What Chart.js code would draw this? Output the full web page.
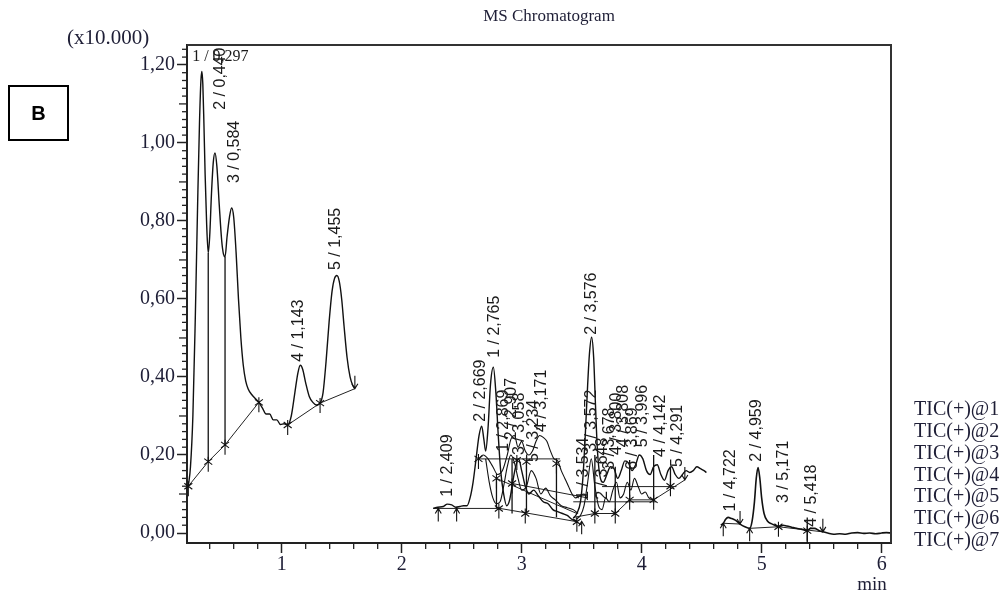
<!DOCTYPE html>
<html>
<head>
<meta charset="utf-8">
<script src="https://cdn.jsdelivr.net/npm/chart.js@4.4.1/dist/chart.umd.min.js"></script>
<style>
  html, body { margin: 0; padding: 0; background: #fff; }
  canvas { display: block; }
</style>
</head>
<body>
<canvas id="c" width="1007" height="596"></canvas>
<script>
// ---------- DATA ----------
const chartTitle = "MS Chromatogram";
const yScaleNote = "(x10.000)";
const xUnit = "min";
const panelLetter = "B";
const legendNames = ["TIC(+)@1","TIC(+)@2","TIC(+)@3","TIC(+)@4","TIC(+)@5","TIC(+)@6","TIC(+)@7"];

// segment 1 (0.2 - 1.6 min)
const seg1X = [0.222,0.24,0.26,0.28,0.30,0.315,0.327,0.335,0.343,0.352,0.362,0.375,0.388,0.40,0.415,0.43,0.444,0.46,0.48,0.50,0.515,0.528,0.545,0.565,0.583,0.60,0.62,0.64,0.66,0.68,0.70,0.72,0.75,0.78,0.81,0.84,0.87,0.90,0.93,0.96,0.99,1.02,1.05,1.08,1.11,1.135,1.155,1.175,1.20,1.23,1.26,1.29,1.32,1.345,1.37,1.395,1.42,1.44,1.46,1.48,1.50,1.52,1.545,1.57,1.59,1.61];
const seg1Y = [0.12,0.17,0.3,0.55,0.85,1.05,1.16,1.183,1.15,1.05,0.92,0.79,0.718,0.76,0.87,0.95,0.974,0.94,0.84,0.75,0.715,0.708,0.76,0.81,0.833,0.81,0.72,0.6,0.5,0.43,0.39,0.37,0.355,0.345,0.335,0.32,0.305,0.305,0.29,0.29,0.278,0.28,0.277,0.3,0.36,0.41,0.43,0.42,0.385,0.35,0.335,0.328,0.333,0.36,0.44,0.54,0.62,0.652,0.66,0.645,0.6,0.53,0.45,0.4,0.38,0.37];

// segment 2 (2.2 - 4.55 min), overlapping traces
const seg2aX = [2.263,2.30,2.347,2.38,2.417,2.45,2.486,2.515,2.545,2.57,2.595,2.62,2.645,2.667,2.685,2.70,2.72,2.74,2.764,2.785,2.805,2.825,2.85,2.875,2.90,2.925,2.95,2.975,3.0,3.03,3.06,3.1,3.14,3.18,3.22,3.26,3.3,3.34,3.38,3.42,3.46];
const seg2aY = [0.063,0.066,0.068,0.074,0.072,0.066,0.068,0.07,0.07,0.09,0.13,0.19,0.25,0.274,0.24,0.21,0.27,0.38,0.425,0.36,0.25,0.16,0.1,0.07,0.085,0.13,0.17,0.19,0.16,0.12,0.1,0.11,0.095,0.08,0.075,0.06,0.055,0.05,0.045,0.035,0.03];
const seg2bX = [2.64,2.68,2.72,2.76,2.80,2.84,2.88,2.91,2.94,2.97,3.0,3.03,3.06,3.09,3.12,3.15,3.18,3.21,3.24,3.27,3.30,3.33,3.36,3.39,3.42,3.45,3.48,3.52,3.55];
const seg2bY = [0.19,0.2,0.19,0.17,0.15,0.16,0.2,0.24,0.25,0.22,0.235,0.21,0.2,0.21,0.235,0.25,0.245,0.235,0.21,0.19,0.185,0.16,0.14,0.12,0.1,0.09,0.095,0.1,0.085];
const seg2cX = [2.70,2.73,2.76,2.79,2.82,2.85,2.88,2.91,2.94,2.97,3.0,3.04,3.08,3.12,3.16,3.2,3.24,3.28,3.33,3.38,3.43,3.47];
const seg2cY = [0.19,0.13,0.09,0.075,0.08,0.12,0.17,0.2,0.18,0.14,0.11,0.12,0.16,0.14,0.1,0.115,0.095,0.085,0.07,0.065,0.06,0.05];
const seg2dX = [3.43,3.46,3.49,3.51,3.53,3.55,3.565,3.583,3.60,3.615,3.63,3.65,3.68,3.71,3.74,3.77,3.80,3.83,3.86,3.89,3.92,3.95,3.98,4.01,4.04,4.07,4.10,4.13,4.16,4.19,4.22,4.25,4.28,4.31,4.34,4.37,4.40,4.43,4.46,4.49,4.52,4.54];
const seg2dY = [0.038,0.05,0.08,0.14,0.25,0.38,0.46,0.502,0.45,0.33,0.22,0.15,0.13,0.15,0.17,0.165,0.14,0.16,0.185,0.18,0.16,0.175,0.2,0.19,0.16,0.15,0.17,0.175,0.15,0.135,0.16,0.17,0.15,0.14,0.15,0.16,0.155,0.16,0.17,0.165,0.16,0.155];
const seg2eX = [3.45,3.49,3.52,3.55,3.58,3.61,3.64,3.67,3.70,3.73,3.76,3.79,3.82,3.85,3.88,3.91,3.94,3.97,4.0,4.03,4.06,4.1];
const seg2eY = [0.035,0.045,0.07,0.13,0.19,0.12,0.07,0.06,0.09,0.08,0.11,0.13,0.09,0.1,0.13,0.11,0.14,0.12,0.1,0.105,0.09,0.085];

// segment 3 (4.66 - 6.08 min)
const seg3X = [4.66,4.68,4.70,4.72,4.75,4.78,4.82,4.86,4.90,4.92,4.94,4.955,4.97,4.985,5.0,5.02,5.05,5.08,5.11,5.14,5.18,5.21,5.25,5.29,5.33,5.375,5.41,5.44,5.48,5.51,5.55,5.6,5.65,5.7,5.75,5.8,5.85,5.9,5.95,6.0,6.04,6.078];
const seg3Y = [0.02,0.025,0.035,0.04,0.037,0.033,0.023,0.016,0.012,0.03,0.08,0.14,0.168,0.14,0.09,0.05,0.03,0.024,0.02,0.016,0.02,0.018,0.015,0.012,0.01,0.006,0.012,0.012,0.006,0.003,0.0,-0.003,-0.002,-0.003,0.0,0.001,-0.001,0.0,-0.002,0.0,0.001,0.0];

// integration baselines: [x1, y1, x2, y2]
const baselineSegments = [
  [0.222,0.12, 0.388,0.183],[0.388,0.183, 0.528,0.226],[0.528,0.226, 0.81,0.335],
  [1.05,0.277, 1.32,0.333],[1.32,0.333, 1.61,0.37],
  [2.263,0.063, 2.82,0.063],[2.82,0.063, 3.46,0.029],
  [2.64,0.19, 3.32,0.19],
  [2.79,0.14, 3.46,0.05],
  [2.92,0.127, 3.55,0.09],
  [3.43,0.04, 3.61,0.05],[3.61,0.05, 3.78,0.05],[3.78,0.05, 3.9,0.085],[3.9,0.085, 4.1,0.085],
  [3.43,0.08, 4.12,0.08],
  [3.67,0.119, 4.29,0.119],
  [4.1,0.085, 4.36,0.136],
  [4.68,0.025, 4.82,0.023],
  [4.90,0.012, 5.14,0.016],[5.14,0.016, 5.51,0.003]
];

// vertical drop lines
const dropX    = [0.388,0.528,2.79,2.92,3.04,3.29,3.61,3.78,3.9,4.1,4.24,5.38];
const dropLow  = [0.183,0.226,0.063,0.05,0.05,0.04,0.05,0.05,0.085,0.085,0.12,-0.03];
const dropHigh = [0.718,0.708,0.14,0.19,0.183,0.178,0.2,0.17,0.187,0.2,0.17,0.04];

// peak start/end markers
const markX = [0.222,0.388,0.528,0.81,1.05,1.32,1.61, 2.305,2.458,2.81,3.03,2.79,2.92,2.96,3.04,3.29,3.46,2.64,3.61,3.78,3.9,4.1,4.24,4.36,3.5, 4.68,4.82,4.90,5.14,5.38,5.51];
const markY = [0.12,0.183,0.226,0.335,0.277,0.333,0.37, 0.063,0.063,0.063,0.05,0.14,0.127,0.187,0.183,0.178,0.029,0.19,0.05,0.05,0.085,0.085,0.12,0.136,0.03, 0.025,0.023,0.012,0.016,0.006,0.003];
const markKind = ["star","star","star","star","star","star","down", "up","up","star","star","star","star","star","star","star","star","star","star","star","star","star","star","down","up", "up","down","up","star","star","down"];

// peak labels (vertical text, start point in data units)
const labelText = ["2 / 0,440","3 / 0,584","4 / 1,143","5 / 1,455",
  "1 / 2,409","2 / 2,669","1 / 2,765","1 / 2,869","2 / 2,907","3 / 3,058","4 / 3,171","5 / 3,234",
  "2 / 3,576","1 / 3,534","3 / 3,572","2 / 3,648","3 / 3,678","4 / 3,800","4 / 3,808","6 / 3,869","5 / 3,996","4 / 4,142","5 / 4,291",
  "1 / 4,722","2 / 4,959","3 / 5,171","4 / 5,418"];
const labelX = [0.494,0.611,1.144,1.448,
  2.386,2.661,2.778,2.853,2.919,2.986,3.169,3.103,
  3.586,3.519,3.586,3.678,3.736,3.794,3.853,3.928,4.011,4.161,4.303,
  4.745,4.961,5.186,5.419];
const labelY = [1.085,0.897,0.439,0.674,
  0.093,0.285,0.449,0.208,0.238,0.2,0.259,0.182,
  0.508,0.085,0.208,0.085,0.162,0.2,0.22,0.162,0.22,0.195,0.169,
  0.055,0.183,0.077,0.016];
const topLabelText = "1 / 0,297";
const topLabelX = 0.254;
const topLabelY = 1.22;

// ---------- BUILD ----------
function pts(xs, ys) { return xs.map((x, i) => ({ x: x, y: ys[i] })); }
const traceStyle = { borderColor: '#111', borderWidth: 1.4, pointRadius: 0, fill: false, cubicInterpolationMode: 'monotone' };
const datasets = [
  Object.assign({ data: pts(seg1X, seg1Y) }, traceStyle),
  Object.assign({ data: pts(seg2aX, seg2aY) }, traceStyle),
  Object.assign({ data: pts(seg2bX, seg2bY) }, traceStyle, { borderWidth: 1.1 }),
  Object.assign({ data: pts(seg2cX, seg2cY) }, traceStyle, { borderWidth: 1.1 }),
  Object.assign({ data: pts(seg2dX, seg2dY) }, traceStyle),
  Object.assign({ data: pts(seg2eX, seg2eY) }, traceStyle, { borderWidth: 1.1 }),
  Object.assign({ data: pts(seg3X, seg3Y) }, traceStyle, { borderWidth: 1.6 })
];
baselineSegments.forEach(s => {
  datasets.push({ data: [{ x: s[0], y: s[1] }, { x: s[2], y: s[3] }], borderColor: '#222', borderWidth: 1, pointRadius: 0, tension: 0, fill: false });
});
dropX.forEach((x, i) => {
  datasets.push({ data: [{ x: x, y: dropLow[i] }, { x: x, y: dropHigh[i] }], borderColor: '#111', borderWidth: 1.3, pointRadius: 0, tension: 0, fill: false });
});

const serif = "'Liberation Serif', 'Times New Roman', serif";
const textColor = '#1e1e36';

const decorPlugin = {
  id: 'decor',
  afterDraw(chart) {
    const ctx = chart.ctx, a = chart.chartArea;
    const xs = chart.scales.x, ys = chart.scales.y;
    ctx.save();
    // frame top/right
    ctx.strokeStyle = '#333'; ctx.lineWidth = 2;
    ctx.beginPath(); ctx.moveTo(a.left, a.top); ctx.lineTo(a.right, a.top); ctx.lineTo(a.right, a.bottom); ctx.stroke();
    // minor ticks y
    ctx.strokeStyle = '#222'; ctx.lineWidth = 1.3;
    for (let k = 0; k <= 62; k++) {
      if (k % 10 === 0) continue;
      const v = k * 0.02; const py = ys.getPixelForValue(v);
      const len = (k % 5 === 0) ? 8 : 5;
      ctx.beginPath(); ctx.moveTo(a.left - len, py); ctx.lineTo(a.left, py); ctx.stroke();
    }
    // minor ticks x
    for (let k = 2; k <= 30; k++) {
      if (k % 5 === 0) continue;
      const px = xs.getPixelForValue(k * 0.2);
      ctx.beginPath(); ctx.moveTo(px, a.bottom); ctx.lineTo(px, a.bottom + 6); ctx.stroke();
    }
    // markers
    ctx.strokeStyle = '#111'; ctx.lineWidth = 1.1;
    markX.forEach((mx, i) => {
      const px = xs.getPixelForValue(mx), py = ys.getPixelForValue(markY[i]);
      const kind = markKind[i];
      ctx.beginPath();
      if (kind === 'star') {
        ctx.moveTo(px, py - 5); ctx.lineTo(px, py + 10);
        ctx.moveTo(px - 4, py - 3); ctx.lineTo(px + 4, py + 3);
        ctx.moveTo(px - 4, py + 3); ctx.lineTo(px + 4, py - 3);
      } else if (kind === 'up') {
        ctx.moveTo(px, py + 13); ctx.lineTo(px, py);
        ctx.moveTo(px - 3, py + 5); ctx.lineTo(px, py); ctx.lineTo(px + 3, py + 5);
      } else {
        ctx.moveTo(px, py - 13); ctx.lineTo(px, py);
        ctx.moveTo(px - 3, py - 5); ctx.lineTo(px, py); ctx.lineTo(px + 3, py - 5);
      }
      ctx.stroke();
    });
    // peak labels
    ctx.fillStyle = '#1a1a1a';
    ctx.font = "16px 'Liberation Sans', Arial, sans-serif";
    ctx.textAlign = 'left'; ctx.textBaseline = 'middle';
    labelText.forEach((t, i) => {
      const px = xs.getPixelForValue(labelX[i]), py = ys.getPixelForValue(labelY[i]);
      ctx.save(); ctx.translate(px, py); ctx.rotate(-Math.PI / 2); ctx.fillText(t, 0, 0); ctx.restore();
    });
    ctx.font = "16px " + serif;
    ctx.fillText(topLabelText, xs.getPixelForValue(topLabelX), ys.getPixelForValue(topLabelY));
    // title & notes
    ctx.fillStyle = textColor;
    ctx.textAlign = 'center';
    ctx.font = "17px " + serif;
    ctx.fillText(chartTitle, 549, 17);
    ctx.textAlign = 'left';
    ctx.font = "21px " + serif;
    ctx.fillText(yScaleNote, 67, 38);
    ctx.textAlign = 'center';
    ctx.font = "19px " + serif;
    ctx.fillText(xUnit, 872, 585);
    // legend
    ctx.textAlign = 'left';
    ctx.font = "20px " + serif;
    legendNames.forEach((n, i) => ctx.fillText(n, 914, 410 + i * 21.8));
    // panel letter box
    ctx.strokeStyle = '#000'; ctx.lineWidth = 2;
    ctx.strokeRect(9, 86, 59, 54);
    ctx.fillStyle = '#000';
    ctx.font = "bold 20px 'Liberation Sans', Arial, sans-serif";
    ctx.textAlign = 'center';
    ctx.fillText(panelLetter, 38.5, 114);
    ctx.restore();
  }
};

new Chart(document.getElementById('c'), {
  type: 'line',
  data: { datasets: datasets },
  options: {
    responsive: false,
    animation: false,
    layout: { padding: { left: 0, right: 116, top: 45, bottom: 0 } },
    plugins: { legend: { display: false }, title: { display: false }, tooltip: { enabled: false } },
    scales: {
      x: {
        type: 'linear', min: 0.211, max: 6.078,
        afterFit(s) { s.height = 53; },
        ticks: { stepSize: 1, includeBounds: false, maxRotation: 0, padding: 0, color: textColor, font: { family: serif, size: 20 } },
        grid: { display: true, drawOnChartArea: false, drawTicks: true, tickLength: 10, tickColor: '#222', tickWidth: 1.5 },
        border: { display: true, color: '#222', width: 2 }
      },
      y: {
        type: 'linear', min: -0.0256, max: 1.251,
        afterFit(s) { s.width = 187; },
        ticks: { stepSize: 0.2, includeBounds: false, padding: 2, color: textColor, font: { family: serif, size: 20 },
                 callback: v => Number(v).toFixed(2).replace('.', ',') },
        grid: { display: true, drawOnChartArea: false, drawTicks: true, tickLength: 10, tickColor: '#222', tickWidth: 1.5 },
        border: { display: true, color: '#222', width: 2 }
      }
    }
  },
  plugins: [decorPlugin]
});
</script>
</body>
</html>
